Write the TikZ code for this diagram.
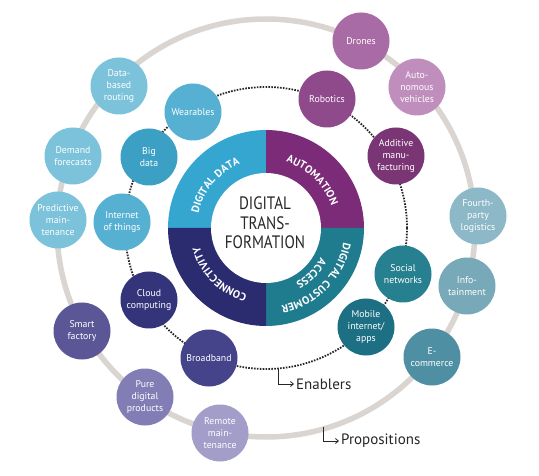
\documentclass[tikz,border=0pt]{standalone}
\usepackage{fontspec}
\setmainfont{PT Sans}
\usetikzlibrary{decorations.text,arrows.meta}
\definecolor{wdata}{HTML}{35A6CF}
\definecolor{wauto}{HTML}{7B2B77}
\definecolor{wdca}{HTML}{1F7C8E}
\definecolor{wconn}{HTML}{2B2B70}
\definecolor{cA}{HTML}{7CC2DA}
\definecolor{cB}{HTML}{56B0D2}
\definecolor{cC}{HTML}{3C9FC4}
\definecolor{pA}{HTML}{A96BA6}
\definecolor{pB}{HTML}{BF8EBC}
\definecolor{pC}{HTML}{8E4A8A}
\definecolor{pD}{HTML}{7A3575}
\definecolor{tA}{HTML}{8DB8C8}
\definecolor{tB}{HTML}{78A9B9}
\definecolor{tC}{HTML}{4F8FA3}
\definecolor{tD}{HTML}{27808F}
\definecolor{tE}{HTML}{1D6F84}
\definecolor{nA}{HTML}{34347A}
\definecolor{nB}{HTML}{45448B}
\definecolor{nC}{HTML}{5B5696}
\definecolor{nD}{HTML}{837DB5}
\definecolor{nE}{HTML}{A29DC9}
\definecolor{propgray}{HTML}{DAD5D0}
\definecolor{darktext}{HTML}{262626}
\tikzset{
  bub/.style={circle, minimum size=57pt, inner sep=0pt, align=center, text=white,
    font=\fontsize{9.8}{12.3}\selectfont},
  ringtext/.style={decorate, decoration={text along path, text align=center, text color=white,
    text={|\fontsize{10.8}{12}\selectfont\bfseries\addfontfeatures{LetterSpace=6}|#1}}},
  enab/.style={line width=1.8pt, darktext, dash pattern=on 1.6pt off 1.3pt},
  lbl/.style={anchor=west, inner sep=2pt, text=darktext, font=\fontsize{15}{17}\selectfont},
  corner/.style={line width=0.8pt, darktext, -{Straight Barb[length=3pt,width=5pt]}}
}
\begin{document}
\begin{tikzpicture}[x=1pt,y=1pt]
\fill[white] (0,0) rectangle (539,-476);
\useasboundingbox (0,0) rectangle (539,-476);
\coordinate (c) at (266,-228);
% propositions ring
\draw[line width=5.5pt, propgray] (c) circle[radius=209];
% enablers ring
\draw[enab] (c) circle[radius=141];
% donut
\fill[wdata] (c) -- ++(90:98) arc[start angle=90, end angle=180, radius=98] -- cycle;
\fill[wauto] (c) -- ++(0:98) arc[start angle=0, end angle=90, radius=98] -- cycle;
\fill[wdca] (c) -- ++(-90:98) arc[start angle=-90, end angle=0, radius=98] -- cycle;
\fill[wconn] (c) -- ++(180:98) arc[start angle=180, end angle=270, radius=98] -- cycle;
\fill[white] (c) circle[radius=55];
\path[ringtext={DIGITAL DATA}] (c) ++(185:69) arc[start angle=185, end angle=95, radius=69];
\path[ringtext={AUTOMATION}] (c) ++(91:69) arc[start angle=91, end angle=1, radius=69];
\path[ringtext={CONNECTIVITY}] (c) ++(270:69) arc[start angle=270, end angle=180, radius=69];
\path[ringtext={DIGITAL CUSTOMER}] (c) ++(2:79) arc[start angle=2, end angle=-92, radius=79];
\path[ringtext={ACCESS}] (c) ++(0:62) arc[start angle=0, end angle=-90, radius=62];
\node[align=center, text=darktext, font=\fontsize{18}{19.5}\selectfont, xscale=0.84, transform shape] (dt) at (265,-223) {DIGITAL\\TRANS-\\FORMATION};
% outer propositions
\node[bub, fill=cA] (dbr) at (119,-86) {Data-\\based\\routing};
\node[bub, fill=cA] (dfc) at (73,-156) {Demand\\forecasts};
\node[bub, fill=cA] (pmt) at (58,-220) {Predictive\\main-\\tenance};
\node[bub, fill=nC] (smf) at (82,-331) {Smart\\factory};
\node[bub, fill=nD] (pdp) at (145,-397) {Pure\\digital\\products};
\node[bub, fill=nE] (rmt) at (220,-433) {Remote\\main-\\tenance};
\node[bub, fill=tC] (eco) at (432,-357) {E-\\commerce};
\node[bub, fill=tB] (inf) at (467,-286) {Info-\\tainment};
\node[bub, fill=tA] (fpl) at (478,-216) {Fourth-\\party\\logistics};
\node[bub, fill=pB] (aut) at (417,-87) {Auto-\\nomous\\vehicles};
\node[bub, fill=pA] (drn) at (361,-41) {Drones};
% inner enablers
\node[bub, fill=cB] (wea) at (193,-112) {Wearables};
\node[bub, fill=cC] (bgd) at (149,-157) {Big\\data};
\node[bub, fill=cB] (iot) at (122,-222) {Internet\\of things};
\node[bub, fill=nA] (clc) at (149,-300) {Cloud\\computing};
\node[bub, fill=nB] (brb) at (209,-358) {Broadband};
\node[bub, fill=tE] (mob) at (366,-327) {Mobile\\internet/\\apps};
\node[bub, fill=tD] (soc) at (403,-274) {Social\\networks};
\node[bub, fill=pD] (add) at (396,-156) {Additive\\manu-\\facturing};
\node[bub, fill=pC] (rob) at (327,-99) {Robotics};
% labels
\coordinate (en0) at (278,-369);
\node[lbl] (enl) at (294,-384) {Enablers};
\draw[corner] (en0) |- (enl.west);
\coordinate (pr0) at (323,-427);
\node[lbl] (prl) at (339,-441) {Propositions};
\draw[corner] (pr0) |- (prl.west);
\end{tikzpicture}
\end{document}
